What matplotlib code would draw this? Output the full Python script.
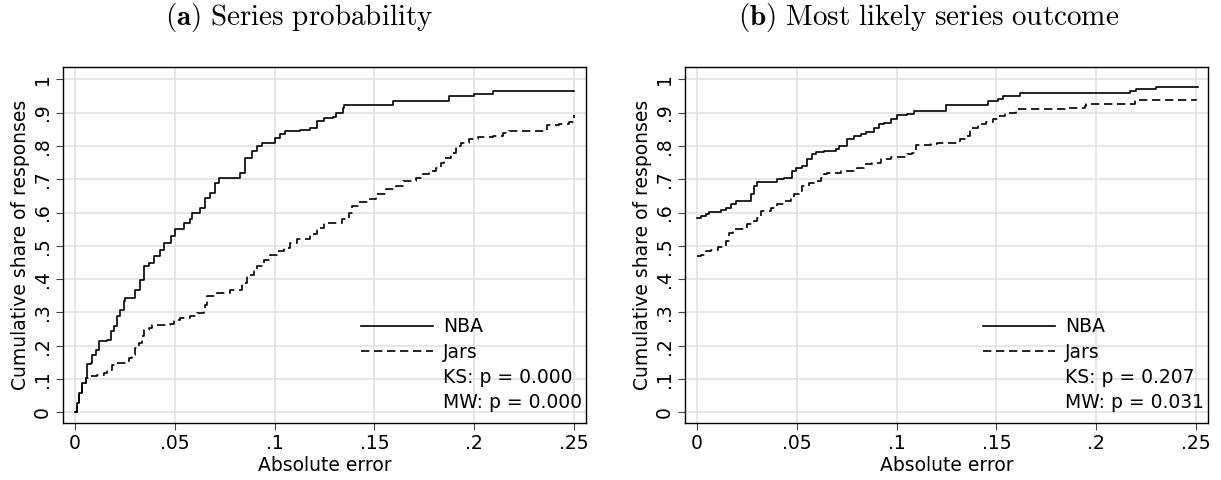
import matplotlib
matplotlib.use("Agg")
import matplotlib.pyplot as plt
from matplotlib.lines import Line2D

plt.rcParams['font.family'] = 'DejaVu Sans'
plt.rcParams['mathtext.fontset'] = 'cm'

# panel (a): series probability -- step points
a_nba_x = [0, .0008, .002, .0037, .0053, .0062, .0078, .0087, .0103, .012, .016, .018,
           .0195, .021, .0228, .0245, .0253, .0303, .0328, .0345, .037, .0395, .0428,
           .0445, .048, .0503, .0545, .0578, .0587, .0628, .0653, .0678, .0703, .072,
           .0828, .0853, .0887, .0912, .0937, .1003, .1028, .1053, .1128, .1178, .1212,
           .1245, .1295, .1308, .1342, .135, .1592, .1875, .2, .2095, .25]
a_nba_y = [0, .028, .058, .088, .103, .146, .148, .173, .188, .213, .218, .243,
           .258, .288, .308, .333, .342, .368, .398, .438, .448, .468, .488,
           .508, .53, .55, .57, .58, .60, .615, .645, .66, .69, .705,
           .72, .765, .785, .80, .81, .825, .835, .845, .847, .855, .875,
           .883, .888, .90, .915, .922, .935, .95, .957, .965, .965]

a_jar_x = [0, .0008, .002, .0037, .0053, .0078, .0112, .0145, .016, .0187, .0203, .0253,
           .027, .0287, .0303, .032, .0337, .0345, .037, .0387, .0478, .0495, .0528,
           .0578, .0612, .0645, .0653, .0662, .0712, .0778, .0837, .0862, .0895, .0912,
           .0945, .0978, .1012, .1045, .1078, .111, .1178, .1212, .1245, .134, .1375,
           .139, .1417, .1467, .1508, .1558, .1608, .1642, .1708, .1742, .1775, .1808,
           .1833, .185, .1883, .1908, .1933, .1975, .2017, .2092, .2142, .2175, .2367,
           .2425, .2475, .25]
a_jar_y = [0, .028, .058, .088, .103, .11, .113, .118, .128, .143, .148, .153,
           .163, .173, .193, .208, .228, .248, .253, .263, .266, .278, .283,
           .288, .298, .303, .323, .348, .358, .368, .388, .413, .428, .438,
           .458, .473, .483, .493, .508, .52, .535, .555, .57, .58, .60,
           .62, .632, .64, .655, .67, .68, .695, .705, .715, .725, .735,
           .75, .765, .78, .80, .81, .82, .827, .83, .84, .845, .862,
           .867, .872, .893]

# panel (b): most likely series outcome
b_nba_x = [0, .002, .0045, .0062, .012, .0145, .017, .0195, .027, .0287, .0303, .0403,
           .0437, .0478, .0495, .0528, .0553, .0578, .0595, .0637, .0695, .0712, .0753,
           .0787, .082, .0845, .0887, .0912, .0937, .097, .1003, .1053, .1087, .1245,
           .1458, .1508, .1533, .1617, .2167, .22, .23, .2508]
b_nba_y = [.585, .59, .595, .602, .608, .615, .625, .635, .655, .68, .692, .70,
           .705, .725, .735, .74, .76, .775, .782, .785, .79, .80, .82,
           .83, .835, .842, .855, .865, .87, .88, .892, .895, .905, .922,
           .935, .94, .95, .958, .965, .97, .978, .978]

b_jar_x = [0, .002, .0045, .007, .0103, .0128, .0145, .0162, .0178, .0253, .0287, .0303,
           .032, .037, .0403, .0437, .047, .0487, .0512, .0528, .0562, .0587, .062,
           .0637, .0653, .072, .0803, .0837, .0878, .092, .097, .1053, .1078, .1095,
           .117, .1203, .1317, .1342, .1367, .1408, .145, .1483, .1508, .1542, .16,
           .1842, .1942, .195, .2192, .25]
b_jar_y = [.468, .473, .483, .488, .496, .50, .515, .54, .55, .565, .575, .585,
           .605, .615, .625, .635, .642, .655, .665, .68, .69, .695, .705,
           .715, .72, .725, .735, .745, .75, .76, .768, .775, .78, .802,
           .805, .81, .82, .83, .855, .865, .872, .88, .89, .90, .91,
           .915, .92, .925, .937, .94]

titles = [r'$\mathbf{(a)}\ \mathrm{Series\ probability}$',
          r'$\mathbf{(b)}\ \mathrm{Most\ likely\ series\ outcome}$']
tests = [('KS: p = 0.000', 'MW: p = 0.000'), ('KS: p = 0.207', 'MW: p = 0.031')]
panels = [(a_nba_x, a_nba_y, a_jar_x, a_jar_y), (b_nba_x, b_nba_y, b_jar_x, b_jar_y)]

xticks = [0, .05, .1, .15, .2, .25]
xticklabels = ['0', '.05', '.1', '.15', '.2', '.25']
yticks = [i / 10 for i in range(11)]
yticklabels = ['0', '.1', '.2', '.3', '.4', '.5', '.6', '.7', '.8', '.9', '1']

fs = 13.5
fig = plt.figure(figsize=(12.21, 4.8), dpi=100)
lefts = [63 / 1221, 685 / 1221]
title_x = [0.245, 0.761]

for k in range(2):
    ax = fig.add_axes([lefts[k], 57 / 480, 523 / 1221, 356 / 480])
    nx, ny, jx, jy = panels[k]
    ax.step(nx, ny, where='post', color='black', lw=1.2, zorder=3)
    ax.step(jx, jy, where='post', color='black', lw=1.2, dashes=(5, 2.8), zorder=3)

    ax.set_xlim(-0.006, 0.256)
    ax.set_ylim(-0.032, 1.037)
    ax.set_xticks(xticks)
    ax.set_xticklabels(xticklabels, fontsize=fs)
    ax.set_yticks(yticks)
    ax.set_yticklabels(yticklabels, fontsize=fs, rotation=90, va='center')
    ax.tick_params(length=5, width=0.8, color='#444444', pad=3)
    ax.grid(True, color='#e3e3e3', lw=1.2, zorder=0)
    ax.set_axisbelow(True)
    for s in ax.spines.values():
        s.set_linewidth(1.0)
    ax.set_xlabel('Absolute error', fontsize=fs, labelpad=2)
    ax.set_ylabel('Cumulative share of responses', fontsize=fs, labelpad=2)

    handles = [Line2D([], [], color='black', lw=1.2),
               Line2D([], [], color='black', lw=1.2, dashes=(5, 2.8)),
               Line2D([], [], lw=0), Line2D([], [], lw=0)]
    labels = ['NBA', 'Jars', tests[k][0], tests[k][1]]
    ax.legend(handles, labels, loc='lower right', bbox_to_anchor=(0.993, 0.03),
              frameon=False, fontsize=fs, handlelength=3.85, handletextpad=0.55,
              labelspacing=0.34, borderpad=0, borderaxespad=0)

    fig.text(title_x[k], 1 - 25 / 480, titles[k], fontsize=21, ha='center', va='baseline')

fig.savefig('out.png', dpi=100)
